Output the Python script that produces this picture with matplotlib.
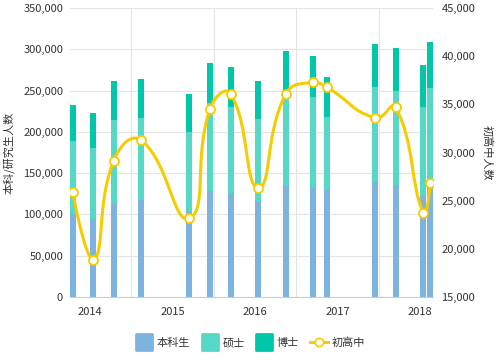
import numpy as np
import pandas as pd
import matplotlib
matplotlib.use('Agg')
import matplotlib.pyplot as plt
import matplotlib.dates as mdates
from matplotlib.path import Path
from matplotlib.patches import PathPatch
from matplotlib.lines import Line2D
from matplotlib.markers import MarkerStyle
from matplotlib.ticker import FuncFormatter

plt.rcParams['font.family'] = ['Noto Sans CJK SC', 'DejaVu Sans']

# data
dates = ['2013-10-15', '2014-01-15', '2014-04-15', '2014-08-15', '2015-03-15',
         '2015-06-15', '2015-09-15', '2016-01-15', '2016-05-15', '2016-09-15',
         '2016-11-15', '2017-06-15', '2017-09-15', '2018-01-15', '2018-02-15']
undergrad = [101000, 94000, 114000, 117000, 104500, 128000, 125500, 115500,
             136000, 132500, 130000, 139000, 136000, 122000, 133000]
master = [87500, 86000, 100000, 100000, 95500, 107000, 105000, 99500,
          112500, 110000, 88000, 115000, 114000, 108000, 120000]
doctor = [44000, 43000, 47500, 47000, 45500, 48500, 48000, 46500,
          49500, 49500, 48500, 52500, 52000, 51000, 55500]
secondary = [25900, 18850, 29150, 31250, 23150, 34550, 36100, 26350,
             36050, 37300, 36750, 33600, 34700, 23750, 26850]
series_names = ['本科生', '硕士', '博士', '初高中']
year_labels = ['2014', '2015', '2016', '2017', '2018']

c_ug = '#7db4df'
c_ms = '#55d8c6'
c_dr = '#00c7a9'
c_line = '#f6cc00'
text_c = '#333333'
grid_c = '#e4e4e4'


def smooth_path(pts, smooth=0.5):
    # echarts-like bezier smoothing in pixel space, control points kept
    # inside the bounding box of the points
    lo = pts.min(axis=0)
    hi = pts.max(axis=0)
    verts = [pts[0]]
    codes = [Path.MOVETO]
    cp = pts[0]
    for i in range(1, len(pts)):
        p = pts[i]
        prev = pts[i - 1]
        if i + 1 < len(pts):
            nxt = pts[i + 1]
            v = nxt - prev
            l0 = np.hypot(*(p - prev))
            l1 = np.hypot(*(nxt - p))
            r = l1 / (l0 + l1)
            cin = np.clip(p - v * smooth * (1 - r), lo, hi)
            cout = np.clip(p + v * smooth * r, lo, hi)
        else:
            cin = p
            cout = p
        verts += [cp, cin, p]
        codes += [Path.CURVE4] * 3
        cp = cout
    return np.array(verts), codes


x = mdates.date2num(pd.to_datetime(dates))
ug = np.array(undergrad)
ms = np.array(master)
dr = np.array(doctor)

fig = plt.figure(figsize=(5, 3.63), dpi=100)
ax = fig.add_axes([70 / 500, 66 / 363, 363 / 500, 289 / 363])
ax2 = ax.twinx()

w = 26.6
ax.bar(x, ug, w, color=c_ug, zorder=2)
ax.bar(x, ms, w, bottom=ug, color=c_ms, zorder=2)
ax.bar(x, dr, w, bottom=ug + ms, color=c_dr, zorder=2)

ax.set_ylim(0, 350000)
ax.set_yticks(np.arange(0, 350001, 50000))
ax.yaxis.set_major_formatter(FuncFormatter(lambda v, p: f'{int(v):,}'))
ax2.set_ylim(15000, 45000)
ax2.set_yticks(np.arange(15000, 45001, 5000))
ax2.yaxis.set_major_formatter(FuncFormatter(lambda v, p: f'{int(v):,}'))
ax.set_xlim(mdates.date2num(pd.Timestamp('2013-10-03')),
            mdates.date2num(pd.Timestamp('2018-02-27')))

ax.set_xticks(mdates.date2num(pd.to_datetime([y + '-01-01' for y in year_labels])))
ax.set_xticklabels(year_labels)
ax.set_xticks(mdates.date2num(pd.to_datetime([f'{y}-07-01' for y in range(2014, 2018)])),
              minor=True)
ax.grid(True, which='minor', axis='x', color=grid_c, lw=0.8, zorder=0)
ax.grid(True, which='major', axis='y', color=grid_c, lw=0.8, zorder=0)
ax.set_axisbelow(True)

for s in ['left', 'right', 'top']:
    ax.spines[s].set_visible(False)
ax.spines['bottom'].set_color('#cccccc')
for s in ax2.spines.values():
    s.set_visible(False)

ax.tick_params(which='both', length=0, labelsize=8, labelcolor=text_c)
ax.tick_params(axis='y', pad=5)
ax.tick_params(axis='x', pad=7)
ax2.tick_params(length=0, labelsize=8, labelcolor=text_c, pad=6)

# smooth line on the right axis
disp = ax2.transData.transform(np.column_stack([x, secondary]))
verts, codes = smooth_path(disp)
verts = ax2.transData.inverted().transform(verts)
ax2.add_patch(PathPatch(Path(verts, codes), fill=False, edgecolor=c_line,
                        lw=2.2, zorder=3, capstyle='round', joinstyle='round'))
ax2.plot(x, secondary, ls='none', marker='o', ms=6.5, mfc='white',
         mec=c_line, mew=1.3, zorder=4)

fig.text(9 / 500, 1 - 152.5 / 363, '本科/研究生人数', rotation=90,
         ha='center', va='center', fontsize=8, color=text_c)
fig.text(487 / 500, 1 - 152.5 / 363, '初高中人数', rotation=-90,
         ha='center', va='center', fontsize=8, color=text_c)

sq = MarkerStyle('s', joinstyle='round')
handles = [Line2D([], [], ls='none', marker=sq, ms=11, mfc=c, mec=c, mew=2)
           for c in [c_ug, c_ms, c_dr]]
handles.append(Line2D([], [], color=c_line, lw=2.2, marker='o', ms=6,
                      mfc='white', mec=c_line, mew=1.2))
fig.legend(handles, series_names, loc='center', bbox_to_anchor=(0.5, 20 / 363),
           ncol=4, frameon=False, fontsize=8, handlelength=1.6,
           handletextpad=0.3, columnspacing=1.0, labelcolor=text_c)

fig.savefig('out.png', dpi=100)
